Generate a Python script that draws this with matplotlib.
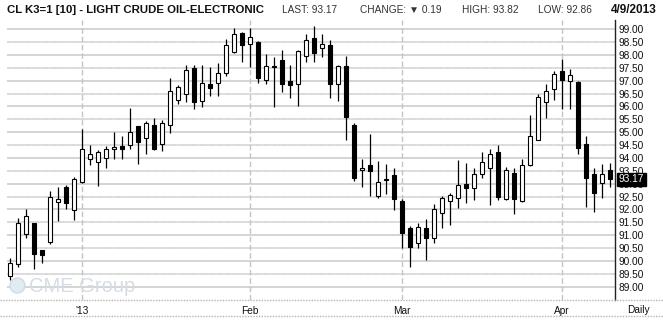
"""
Daily candlestick chart of the May 2013 light crude oil future (CL K3),
drawn in the style of a CME quote snapshot.
Output: out.png, 663x320 px.
"""

import numpy as np
import pandas as pd
import matplotlib
matplotlib.use("Agg")
import matplotlib.pyplot as plt
from matplotlib.lines import Line2D
from matplotlib.patches import Ellipse
from matplotlib.transforms import blended_transform_factory

# Trading days, 18 Dec 2012 .. 9 Apr 2013 (exchange holidays removed)
start_day = "2012-12-18"
end_day = "2013-04-09"
holidays = ["2012-12-25", "2013-01-01", "2013-01-21", "2013-02-18", "2013-03-29"]

# Daily OHLC
opens = [89.40, 89.87, 91.03, 91.46, 90.41, 90.72, 92.30, 92.87, 91.97, 93.05,
         93.95, 93.83, 93.99, 94.34, 94.45, 94.49, 95.23, 94.76, 95.27, 94.53,
         95.27, 96.24, 96.47, 97.48, 96.20, 96.86, 96.90, 97.29, 98.11, 98.84,
         98.42, 98.49, 97.02, 97.56, 97.80, 96.98, 96.86, 97.95, 98.66, 98.26,
         98.38, 96.86, 97.56, 95.27, 93.52, 93.72, 92.54, 93.17, 93.33, 92.32,
         91.27, 90.68, 91.27, 90.87, 91.88, 92.32, 92.43, 92.98, 92.82, 93.37,
         93.61, 94.22, 92.39, 93.40, 92.32, 93.72, 94.71, 96.16, 96.67, 97.37,
         96.98, 96.94, 94.53, 93.37, 93.02, 93.52]
highs = [90.10, 91.68, 92.00, 91.48, 90.42, 92.70, 92.87, 92.95, 93.26, 95.13,
         94.50, 94.30, 94.45, 95.01, 94.85, 95.93, 95.25, 95.44, 95.54, 95.46,
         97.10, 96.82, 97.61, 97.61, 97.61, 97.54, 97.68, 98.61, 99.04, 98.90,
         99.04, 98.53, 98.03, 97.92, 98.18, 97.61, 98.18, 98.81, 99.13, 98.81,
         98.57, 97.60, 97.96, 95.35, 93.97, 94.92, 93.87, 93.75, 93.61, 92.39,
         91.36, 91.47, 91.63, 92.21, 92.54, 92.64, 93.92, 93.79, 93.61, 94.23,
         94.35, 94.50, 93.65, 93.59, 93.96, 95.67, 96.49, 96.88, 97.37, 97.85,
         97.45, 96.98, 94.84, 93.61, 93.75, 93.82]
lows = [89.25, 89.78, 90.90, 89.67, 89.93, 90.64, 91.55, 92.03, 91.59, 93.02,
        93.74, 92.92, 93.62, 93.94, 93.94, 94.36, 93.78, 94.17, 94.32, 94.28,
        94.95, 96.09, 96.19, 95.92, 95.99, 96.42, 96.42, 97.19, 98.08, 97.74,
        97.54, 96.90, 96.89, 95.99, 96.58, 96.34, 96.03, 97.74, 97.74, 97.94,
        96.31, 96.21, 94.71, 93.11, 92.89, 92.54, 92.46, 92.60, 91.99, 90.52,
        89.78, 90.52, 90.05, 90.71, 91.29, 91.38, 92.06, 92.26, 92.38, 93.24,
        92.16, 92.38, 92.37, 91.84, 92.30, 93.70, 94.69, 95.57, 96.27, 95.92,
        95.92, 94.17, 92.11, 91.91, 92.46, 92.86]
closes = [89.91, 91.46, 91.73, 90.28, 90.24, 92.47, 92.39, 92.23, 93.17, 94.34,
          94.14, 94.22, 94.34, 94.41, 94.36, 95.00, 94.63, 95.35, 94.36, 95.35,
          96.59, 96.75, 97.41, 96.19, 96.90, 96.73, 97.29, 98.38, 98.81, 98.38,
          98.69, 97.10, 97.56, 97.53, 96.86, 96.82, 98.15, 98.60, 98.09, 98.42,
          96.89, 97.56, 95.61, 93.24, 93.61, 93.51, 93.05, 93.13, 92.42, 91.10,
          90.55, 91.31, 90.88, 92.03, 92.43, 92.56, 92.94, 92.85, 93.39, 93.83,
          94.14, 92.50, 93.52, 92.42, 93.72, 94.84, 96.36, 96.59, 97.25, 97.04,
          97.21, 94.40, 93.24, 92.65, 93.37, 93.17]

# Header values
title = "CL K3=1 [10] - LIGHT CRUDE OIL-ELECTRONIC"
last_price = 93.17
change = 0.19
day_high = 93.82
day_low = 92.86
quote_date = "4/9/2013"

# Price axis levels
price_levels = np.arange(89.0, 99.01, 0.5)

FONT = ["Liberation Sans", "DejaVu Sans"]


def trading_days():
    days = pd.bdate_range(start_day, end_day)
    return days[~days.isin(pd.to_datetime(holidays))]


def draw_candles(ax, x):
    o, h, l, c = map(np.asarray, (opens, highs, lows, closes))
    up = c >= o
    ax.vlines(x, l, h, color="black", linewidth=0.9, zorder=3)
    ax.bar(x, np.maximum(np.abs(c - o), 0.05), bottom=np.minimum(o, c),
           width=0.58, color=np.where(up, "white", "black"),
           edgecolor="black", linewidth=0.8, zorder=4)


def plot_chart(out_file):
    fig = plt.figure(figsize=(6.63, 3.2), dpi=100)
    W, H = 663.0, 320.0
    ax = fig.add_axes([7 / W, 20 / H, 608 / W, 280 / H])

    days = trading_days()
    x = np.arange(len(days))

    # month boundaries -> x ticks
    first = [i for i in range(1, len(days)) if days[i].month != days[i - 1].month]
    labels = ["'" + days[i].strftime("%y") if days[i].month == 1
              else days[i].strftime("%b") for i in first]

    # grid
    for v in price_levels:
        if v == int(v):
            ax.axhline(v, color="#c6cbc6", lw=1.1, zorder=1)
        else:
            ax.axhline(v, color="#dcc6dc", lw=1.1, ls=(0, (3, 3)), zorder=1)
            ax.axhline(v, color="#c6dcc6", lw=1.1, ls=(3, (3, 3)), zorder=1)
    for i in first:
        ax.axvline(i, color="#c4c4c4", lw=1.0, ls=(0, (4, 2)), zorder=1)

    draw_candles(ax, x)

    ax.set_xlim(-0.375, len(days) - 0.375)
    ax.set_ylim(88.48, 99.36)

    ax.set_xticks(first, labels)
    ax.yaxis.tick_right()
    ax.set_yticks(price_levels, [f"{v:.2f}" for v in price_levels])
    ax.tick_params(axis="both", length=0, labelsize=7.3, colors="#111111")
    ax.tick_params(axis="x", pad=4)
    ax.tick_params(axis="y", pad=2.5)
    for t in ax.get_xticklabels() + ax.get_yticklabels():
        t.set_fontfamily(FONT)

    for s in ["left", "top", "bottom"]:
        ax.spines[s].set_visible(False)
    ax.spines["right"].set_color("#222222")
    ax.spines["right"].set_linewidth(1.0)

    # last price marker on the price axis
    tr = blended_transform_factory(ax.transAxes, ax.transData)
    ax.text(1.006, last_price, f"{last_price:.2f}", transform=tr, ha="left",
            va="center", fontsize=7.3, color="white", family=FONT,
            clip_on=False, zorder=10,
            bbox=dict(boxstyle="square,pad=0.15", fc="black", ec="black"))

    # frame lines under the plot
    for yy in (300, 316):
        fig.add_artist(Line2D([0, 1], [1 - yy / H, 1 - yy / H],
                              transform=fig.transFigure, color="#b4b4b4",
                              lw=1.0, ls=(0, (1, 1))))
    fig.text(638 / W, 1 - 310 / H, "Daily", ha="center", va="center",
             fontsize=7.3, color="#111111", family=FONT)

    # header
    ty = 1 - 10 / H
    fig.text(7 / W, ty, title, ha="left", va="center", fontsize=8.2,
             fontweight="bold", family=FONT, color="#111111")
    fig.text(282 / W, ty, f"LAST: {last_price:.2f}", ha="left", va="center",
             fontsize=7.3, family=FONT, color="#333333")
    fig.text(360 / W, ty, f"CHANGE: \u25bc {change:.2f}", ha="left",
             va="center", fontsize=7.3, family=FONT, color="#333333")
    fig.text(462 / W, ty, f"HIGH: {day_high:.2f}", ha="left", va="center",
             fontsize=7.3, family=FONT, color="#333333")
    fig.text(538 / W, ty, f"LOW: {day_low:.2f}", ha="left", va="center",
             fontsize=7.3, family=FONT, color="#333333")
    fig.text(657 / W, ty, quote_date, ha="right", va="center", fontsize=8.5,
             fontweight="bold", family=FONT, color="#111111")

    # watermark
    fig.add_artist(Ellipse((17.5 / W, 1 - 285.5 / H), 15 / W, 15 / H,
                           transform=fig.transFigure, fc="#e2ebf2",
                           ec="#cfdbe5", lw=1.0))
    fig.text(29 / W, 1 - 286 / H, "CME Group", ha="left", va="center",
             fontsize=14.5, family=FONT, color="#d6dde4")

    fig.savefig(out_file, dpi=100)


if __name__ == "__main__":
    plot_chart("out.png")
